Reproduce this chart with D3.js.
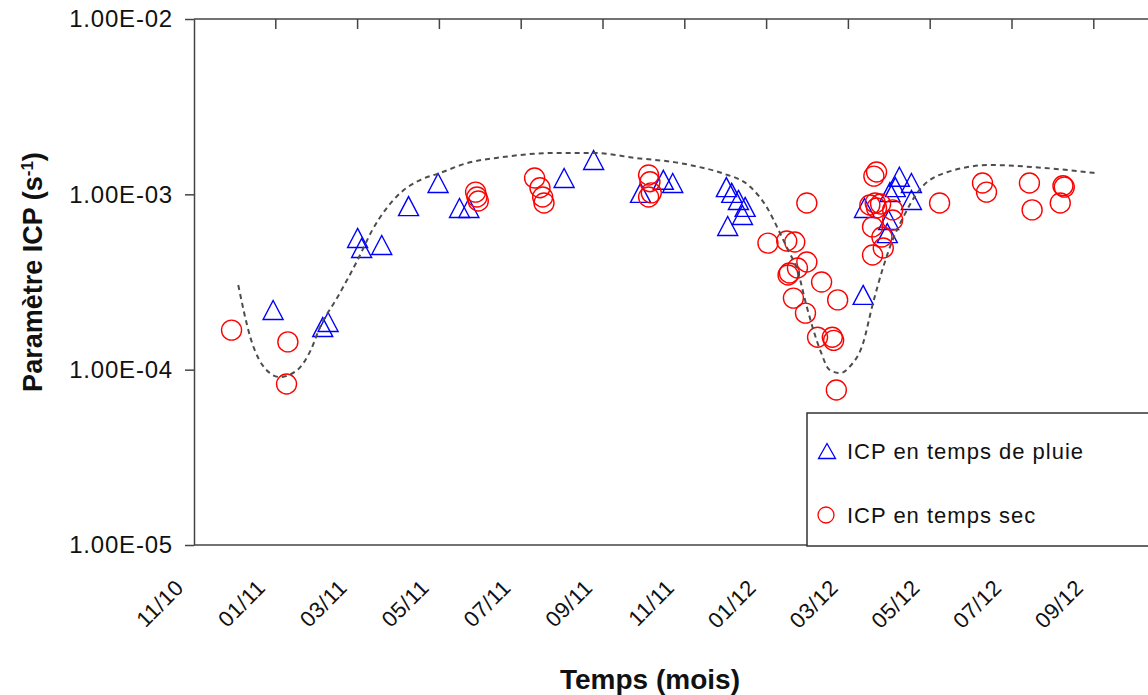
<!DOCTYPE html>
<html>
<head>
<meta charset="utf-8">
<script src="https://cdn.jsdelivr.net/npm/d3@7"></script>
<style>
  body { margin: 0; background: #fff; }
  text { font-family: "Liberation Sans", Arial, sans-serif; fill: #111; }
</style>
</head>
<body>
<svg id="chart" width="1148" height="695"></svg>
<script>
// ICP en temps de pluie (rain) : [date, value]
var rainPoints = [
  ["2010-12-30", 2.19e-4], ["2011-02-05", 1.75e-4], ["2011-02-09", 1.87e-4],
  ["2011-03-03", 5.64e-4], ["2011-03-06", 4.94e-4], ["2011-03-21", 5.14e-4],
  ["2011-04-10", 8.57e-4], ["2011-05-02", 1.16e-3], ["2011-05-18", 8.36e-4],
  ["2011-05-25", 8.36e-4], ["2011-08-04", 1.24e-3], ["2011-08-26", 1.57e-3],
  ["2011-09-30", 1.02e-3], ["2011-10-17", 1.21e-3], ["2011-10-24", 1.16e-3],
  ["2011-12-03", 1.10e-3], ["2011-12-07", 1.02e-3], ["2011-12-12", 9.29e-4],
  ["2011-12-17", 8.48e-4], ["2011-12-15", 7.62e-4], ["2011-12-04", 6.60e-4],
  ["2012-03-14", 2.67e-4], ["2012-03-15", 8.36e-4], ["2012-04-03", 1.03e-3],
  ["2012-04-07", 1.10e-3], ["2012-04-10", 1.26e-3], ["2012-04-19", 1.16e-3],
  ["2012-04-19", 9.29e-4], ["2012-04-02", 7.14e-4], ["2012-04-01", 6.01e-4]
];

// ICP en temps sec (dry)
var dryPoints = [
  ["2010-11-29", 1.68e-4], ["2011-01-10", 1.44e-4], ["2011-01-09", 8.28e-5],
  ["2011-05-30", 1.03e-3], ["2011-05-31", 9.66e-4], ["2011-06-01", 9.16e-4],
  ["2011-07-13", 1.24e-3], ["2011-07-17", 1.09e-3], ["2011-07-19", 9.66e-4],
  ["2011-07-20", 8.93e-4], ["2011-10-06", 1.29e-3], ["2011-10-07", 1.18e-3],
  ["2011-10-08", 1.02e-3], ["2011-10-06", 9.66e-4], ["2012-02-01", 8.93e-4],
  ["2012-01-03", 5.27e-4], ["2012-01-17", 5.42e-4], ["2012-01-23", 5.35e-4],
  ["2012-01-18", 3.47e-4], ["2012-01-19", 3.56e-4], ["2012-01-25", 3.80e-4],
  ["2012-02-01", 4.11e-4], ["2012-02-12", 3.16e-4], ["2012-02-24", 2.50e-4],
  ["2012-01-22", 2.56e-4], ["2012-01-31", 2.10e-4], ["2012-02-09", 1.53e-4],
  ["2012-02-20", 1.53e-4], ["2012-02-21", 1.47e-4], ["2012-02-23", 7.66e-5],
  ["2012-03-24", 1.34e-3], ["2012-03-22", 1.27e-3], ["2012-03-19", 8.69e-4],
  ["2012-03-23", 8.93e-4], ["2012-03-27", 8.81e-4], ["2012-03-24", 8.36e-4],
  ["2012-04-05", 8.15e-4], ["2012-04-05", 7.14e-4], ["2012-03-21", 6.52e-4],
  ["2012-03-28", 5.71e-4], ["2012-03-29", 4.94e-4], ["2012-03-21", 4.51e-4],
  ["2012-05-10", 8.93e-4], ["2012-06-11", 1.16e-3], ["2012-06-14", 1.03e-3],
  ["2012-07-16", 1.16e-3], ["2012-07-18", 8.15e-4], ["2012-08-10", 1.12e-3],
  ["2012-08-11", 1.10e-3], ["2012-08-08", 8.93e-4]
];

// dashed trend curve
var trendPoints = [
  ["2010-12-04", 3.04e-4], ["2010-12-13", 1.53e-4], ["2010-12-25", 9.96e-5],
  ["2011-01-04", 9.08e-5], ["2011-01-17", 9.96e-5], ["2011-01-27", 1.29e-4],
  ["2011-02-03", 1.75e-4], ["2011-02-16", 2.59e-4], ["2011-03-03", 4.22e-4],
  ["2011-03-14", 6.26e-4], ["2011-04-04", 1.02e-3], ["2011-04-19", 1.21e-3],
  ["2011-05-03", 1.32e-3], ["2011-05-24", 1.51e-3], ["2011-06-19", 1.63e-3],
  ["2011-07-27", 1.72e-3], ["2011-08-26", 1.72e-3], ["2011-09-27", 1.61e-3],
  ["2011-10-29", 1.51e-3], ["2011-11-13", 1.43e-3], ["2011-11-30", 1.32e-3],
  ["2011-12-21", 1.10e-3], ["2012-01-02", 8.48e-4], ["2012-01-12", 6.01e-4],
  ["2012-01-18", 4.81e-4], ["2012-01-25", 3.70e-4], ["2012-02-01", 2.28e-4],
  ["2012-02-11", 1.29e-4], ["2012-02-18", 9.96e-5], ["2012-02-26", 9.57e-5],
  ["2012-03-04", 1.04e-4], ["2012-03-14", 1.42e-4], ["2012-03-21", 2.34e-4],
  ["2012-03-29", 3.85e-4], ["2012-04-05", 5.50e-4], ["2012-04-13", 7.43e-4],
  ["2012-04-25", 1.06e-3], ["2012-05-16", 1.34e-3], ["2012-06-17", 1.47e-3],
  ["2012-07-19", 1.43e-3], ["2012-09-04", 1.32e-3]
];

var yTicks = [1e-5, 1e-4, 1e-3, 1e-2];
var xStart = "2010-11-01";
var xEnd = "2012-11-01";
var xStepDays = 61;   // major unit of the date axis
var xTickCount = 12;

var legendLabels = ["ICP en temps de pluie", "ICP en temps sec"];

(function(){
  var parse = d3.timeParse("%Y-%m-%d");
  var start = parse(xStart), end = parse(xEnd);

  var plotLeft = 194, plotTop = 19, plotBottom = 545;
  var pxPerDay = 81.8 / 61;

  var x = d3.scaleTime()
    .domain([start, end])
    .range([plotLeft, plotLeft + d3.timeDay.count(start, end) * pxPerDay]);
  var y = d3.scaleLog().domain([1e-5, 1e-2]).range([plotBottom, plotTop]);

  var xTicks = d3.range(xTickCount).map(function(k){ return d3.timeDay.offset(start, k * xStepDays); });
  var fmtMonth = d3.timeFormat("%m/%y");

  function fmtSci(d){
    var e = Math.round(Math.log10(d));
    var m = d / Math.pow(10, e);
    return m.toFixed(2) + "E" + (e < 0 ? "-" : "+") + String(Math.abs(e)).padStart(2, "0");
  }

  var svg = d3.select("#chart");
  var axisColor = "#444";

  // top border with inward ticks
  svg.append("line")
    .attr("x1", plotLeft).attr("x2", 1148).attr("y1", plotTop).attr("y2", plotTop)
    .attr("stroke", axisColor).attr("stroke-width", 1.5);
  svg.append("g").selectAll("line")
    .data(xTicks.slice(1)).enter().append("line")
    .attr("x1", function(d){ return x(d); }).attr("x2", function(d){ return x(d); })
    .attr("y1", plotTop).attr("y2", plotTop + 10)
    .attr("stroke", axisColor).attr("stroke-width", 1.5);

  // bottom axis line
  svg.append("line")
    .attr("x1", plotLeft).attr("x2", 1148).attr("y1", plotBottom).attr("y2", plotBottom)
    .attr("stroke", axisColor).attr("stroke-width", 1.5);

  // y axis
  var yAxis = svg.append("g")
    .attr("transform", "translate(" + plotLeft + ",0)")
    .call(d3.axisLeft(y).tickValues(yTicks).tickFormat(fmtSci).tickSize(9).tickSizeOuter(0).tickPadding(12));
  yAxis.select(".domain").attr("stroke", axisColor).attr("stroke-width", 1.5);
  yAxis.selectAll(".tick line").attr("stroke", axisColor).attr("stroke-width", 1.5);
  yAxis.selectAll(".tick text")
    .style("font-family", "'Liberation Sans', Arial, sans-serif")
    .style("font-size", "24px").style("letter-spacing", "0.8px")
    .attr("fill", "#111");

  // x tick labels (rotated)
  svg.append("g").selectAll("text")
    .data(xTicks).enter().append("text")
    .attr("transform", function(d){ return "translate(" + (x(d) - 9) + ",589) rotate(-45)"; })
    .attr("text-anchor", "end")
    .style("font-size", "22px").style("letter-spacing", "0.5px")
    .attr("fill", "#222")
    .text(function(d){ return fmtMonth(d); });

  // markers
  var triW = 20, triH = 19;
  var triPath = "M0," + (-triH / 2) + "L" + (triW / 2) + "," + (triH / 2) + "L" + (-triW / 2) + "," + (triH / 2) + "Z";

  svg.append("g").selectAll("path")
    .data(rainPoints).enter().append("path")
    .attr("d", triPath)
    .attr("transform", function(d){ return "translate(" + x(parse(d[0])) + "," + y(d[1]) + ")"; })
    .attr("fill", "none").attr("stroke", "#0000ff").attr("stroke-width", 1.4);

  svg.append("g").selectAll("circle")
    .data(dryPoints).enter().append("circle")
    .attr("cx", function(d){ return x(parse(d[0])); })
    .attr("cy", function(d){ return y(d[1]); })
    .attr("r", 10)
    .attr("fill", "none").attr("stroke", "#ff0000").attr("stroke-width", 1.4);

  // trend line
  var line = d3.line()
    .x(function(d){ return x(parse(d[0])); })
    .y(function(d){ return y(d[1]); })
    .curve(d3.curveMonotoneX);
  svg.append("path")
    .datum(trendPoints)
    .attr("d", line)
    .attr("fill", "none").attr("stroke", "#4d4d4d")
    .attr("stroke-width", 2).attr("stroke-dasharray", "5,4");

  // legend
  var lg = svg.append("g");
  lg.append("rect")
    .attr("x", 807).attr("y", 413).attr("width", 400).attr("height", 133)
    .attr("fill", "#fff").attr("stroke", "#333").attr("stroke-width", 1.5);
  lg.append("path")
    .attr("d", "M0,-7.5L8.5,7.5L-8.5,7.5Z")
    .attr("transform", "translate(827,451)")
    .attr("fill", "none").attr("stroke", "#0000ff").attr("stroke-width", 1.3);
  lg.append("circle")
    .attr("cx", 826).attr("cy", 515).attr("r", 8)
    .attr("fill", "none").attr("stroke", "#ff0000").attr("stroke-width", 1.3);
  lg.selectAll("text.lab")
    .data(legendLabels).enter().append("text")
    .attr("class", "lab")
    .attr("x", 847)
    .attr("y", function(d, i){ return 459 + i * 64; })
    .style("font-size", "22px").style("letter-spacing", "1px")
    .text(function(d){ return d; });

  // axis titles
  svg.append("text")
    .attr("x", 650).attr("y", 689)
    .attr("text-anchor", "middle")
    .style("font-size", "28px").style("font-weight", "bold")
    .text("Temps (mois)");

  var yt = svg.append("text")
    .attr("transform", "translate(42,272) rotate(-90)")
    .attr("text-anchor", "middle")
    .style("font-size", "27px").style("font-weight", "bold");
  yt.append("tspan").text("Paramètre ICP (s");
  yt.append("tspan").attr("dy", "-9").style("font-size", "17px").text("-1");
  yt.append("tspan").attr("dy", "9").text(")");
})();
</script>
</body>
</html>
